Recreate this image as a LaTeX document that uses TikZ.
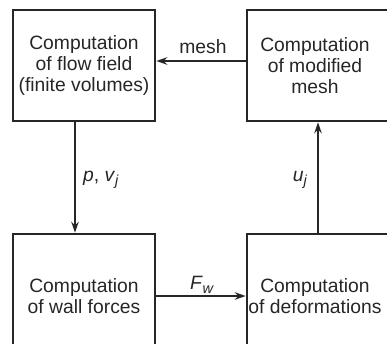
\documentclass[tikz,border=0pt]{standalone}
\usepackage{fontspec}
\setmainfont{Liberation Sans}
\usetikzlibrary{arrows.meta}
\tikzset{
  procbox/.style={draw=black!85, text=black!85, line width=2.6pt, minimum width=142pt, minimum height=111pt,
    inner sep=0pt, align=center, font=\fontsize{19.3}{20.8}\selectfont},
  arr/.style={draw=black!85, line width=1.8pt, -{Stealth[length=11pt,width=7.5pt]}},
  lbl/.style={text=black!85, font=\fontsize{19.3}{20.8}\selectfont, inner sep=0pt}
}
\begin{document}
\begin{tikzpicture}[x=1pt,y=-1pt]
\useasboundingbox (0,0) rectangle (387,343);
\clip (0,0) rectangle (387,343);
\node[procbox] (tl) at (84,65.5) {Computation\\of flow field\\(finite volumes)};
\node[procbox] (tr) at (318,65.5) {\hspace*{-6pt}Computation\\\hspace*{-6pt}of modified\\\hspace*{-6pt}mesh};
\node[procbox, minimum height=124pt] (bl) at (84,296) {Computation\\of wall forces};
\node[procbox, minimum height=124pt] (br) at (318,296) {\hspace*{-6pt}Computation\\\hspace*{-6pt}of deformations};
\draw[arr] ([yshift=4.5pt]tr.west) -- ([yshift=4.5pt]tl.east);
\draw[arr] ([xshift=-9pt]tl.south) -- ([xshift=-9pt]bl.north);
\draw[arr] (br.north) -- (tr.south);
\draw[arr] (bl.east) -- (br.west);
\node[lbl] (lmesh) at (203,47) {mesh};
\node[lbl, anchor=west] (lpv) at (83,180) {\textit{p}, \textit{v}\raisebox{-4pt}{\fontsize{14.5}{14.5}\selectfont\textit{j}}};
\node[lbl] (luj) at (300,180) {\textit{u}\raisebox{-4pt}{\fontsize{14.5}{14.5}\selectfont\textit{j}}};
\node[lbl] (lfw) at (202,285) {\textit{F}\raisebox{-4pt}{\fontsize{14.5}{14.5}\selectfont\textit{w}}};
\end{tikzpicture}
\end{document}
